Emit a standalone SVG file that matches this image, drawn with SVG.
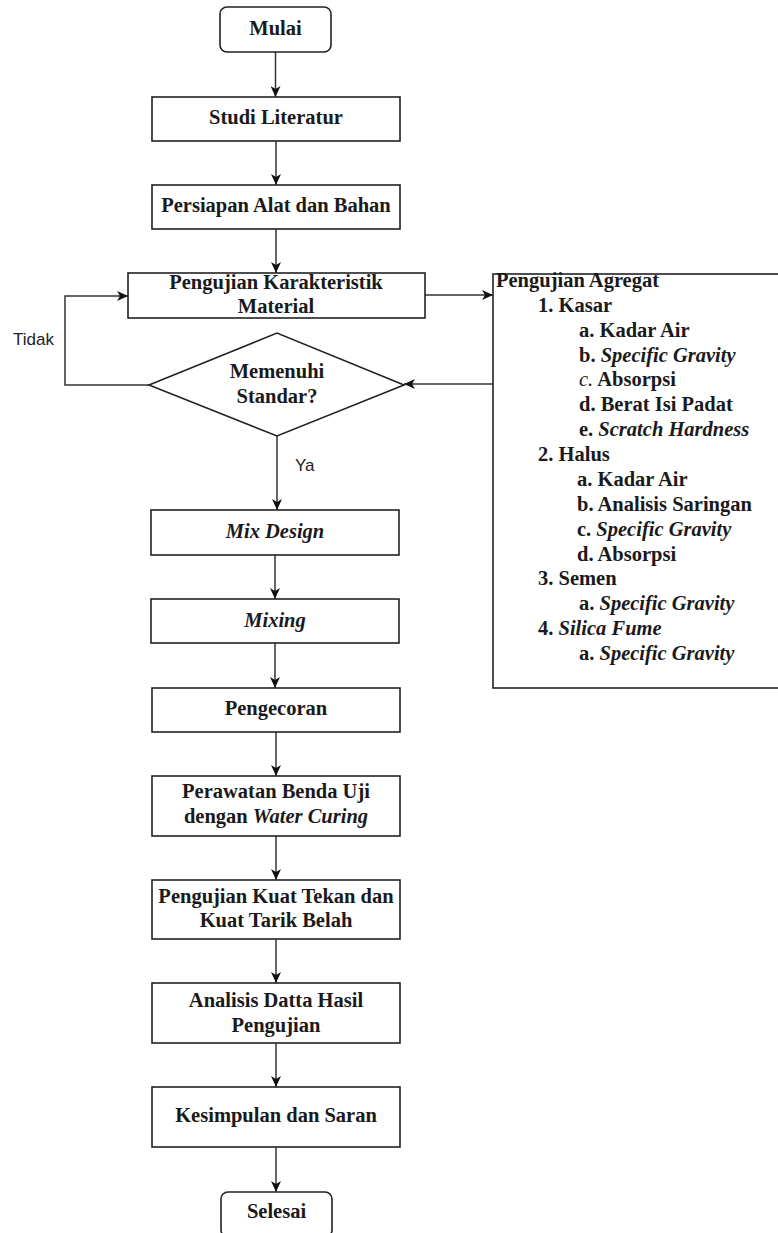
<svg xmlns="http://www.w3.org/2000/svg" width="778" height="1233" viewBox="0 0 778 1233">
<style>
.box{fill:#fff;stroke:#222;stroke-width:1.6}
.t{font-family:"Liberation Serif","Times New Roman",serif;font-weight:bold;font-size:20.5px;fill:#1a1a1a}
.c{text-anchor:middle}
.i{font-style:italic}
.s{font-family:"Liberation Sans",Arial,sans-serif;font-size:17px;fill:#222}
.ln{fill:none;stroke:#333;stroke-width:1.5}
</style>
<defs>
<marker id="ah" markerUnits="userSpaceOnUse" markerWidth="12" markerHeight="10" refX="11" refY="5" orient="auto">
<path d="M0,0 L11,5 L0,10 L3,5 z" fill="#111"/>
</marker>
</defs>
<rect width="778" height="1233" fill="#fff"/>
<g id="connectors">
<line class="ln" x1="275.5" y1="52" x2="275.5" y2="97" marker-end="url(#ah)"/>
<line class="ln" x1="276" y1="141" x2="276" y2="185" marker-end="url(#ah)"/>
<line class="ln" x1="276" y1="229" x2="276" y2="273" marker-end="url(#ah)"/>
<line class="ln" x1="425" y1="295" x2="493" y2="295" marker-end="url(#ah)"/>
<line class="ln" x1="494" y1="384" x2="404" y2="384" marker-end="url(#ah)"/>
<polyline class="ln" points="149,385 65,385 65,296 128,296" marker-end="url(#ah)"/>
<line class="ln" x1="277" y1="436" x2="277" y2="510" marker-end="url(#ah)"/>
<line class="ln" x1="275" y1="555" x2="275" y2="599" marker-end="url(#ah)"/>
<line class="ln" x1="275" y1="643" x2="275" y2="688" marker-end="url(#ah)"/>
<line class="ln" x1="276" y1="732" x2="276" y2="776" marker-end="url(#ah)"/>
<line class="ln" x1="276" y1="836" x2="276" y2="880" marker-end="url(#ah)"/>
<line class="ln" x1="276" y1="939" x2="276" y2="983" marker-end="url(#ah)"/>
<line class="ln" x1="276" y1="1043" x2="276" y2="1087" marker-end="url(#ah)"/>
<line class="ln" x1="276" y1="1147" x2="276" y2="1192" marker-end="url(#ah)"/>
<text class="s" x="13" y="345">Tidak</text>
<text class="s" x="295" y="471">Ya</text>
</g>
<g id="mulai"><rect class="box" x="220" y="7" width="111" height="45" rx="7"/><text class="t c" x="275.5" y="35">Mulai</text></g>
<g id="studi"><rect class="box" x="152" y="97" width="248" height="44"/><text class="t c" x="276" y="124">Studi Literatur</text></g>
<g id="persiapan"><rect class="box" x="152" y="185" width="248" height="44"/><text class="t c" x="276" y="212">Persiapan Alat dan Bahan</text></g>
<g id="karakteristik"><rect class="box" x="128" y="273" width="297" height="45"/><text class="t c" x="276" y="289">Pengujian Karakteristik</text><text class="t c" x="276" y="313">Material</text></g>
<g id="keputusan"><polygon class="box" points="149,385 277,333 404,385 277,436"/><text class="t c" x="277" y="378">Memenuhi</text><text class="t c" x="277" y="403">Standar?</text></g>
<g id="agregat"><rect class="box" x="493" y="274" width="300" height="414"/>
<text class="t" x="496" y="287">Pengujian Agregat</text>
<text class="t" x="538" y="312">1. Kasar</text>
<text class="t" x="579" y="337">a. Kadar Air</text>
<text class="t" x="579" y="362">b. <tspan class="i">Specific Gravity</tspan></text>
<text class="t" x="579" y="386"><tspan class="i" font-weight="normal">c.</tspan> Absorpsi</text>
<text class="t" x="579" y="411">d. Berat Isi Padat</text>
<text class="t" x="579" y="436">e. <tspan class="i">Scratch Hardness</tspan></text>
<text class="t" x="538" y="461">2. Halus</text>
<text class="t" x="577" y="486">a. Kadar Air</text>
<text class="t" x="577" y="511">b. Analisis Saringan</text>
<text class="t" x="577" y="536">c. <tspan class="i">Specific Gravity</tspan></text>
<text class="t" x="577" y="561">d. Absorpsi</text>
<text class="t" x="538" y="585">3. Semen</text>
<text class="t" x="579" y="610">a. <tspan class="i">Specific Gravity</tspan></text>
<text class="t" x="538" y="635">4. <tspan class="i">Silica Fume</tspan></text>
<text class="t" x="579" y="660">a. <tspan class="i">Specific Gravity</tspan></text>
</g>
<g id="mixdesign"><rect class="box" x="151" y="510" width="248" height="45"/><text class="t c i" x="275" y="538">Mix Design</text></g>
<g id="mixing"><rect class="box" x="151" y="599" width="248" height="44"/><text class="t c i" x="275" y="627">Mixing</text></g>
<g id="pengecoran"><rect class="box" x="152" y="688" width="248" height="44"/><text class="t c" x="276" y="715">Pengecoran</text></g>
<g id="perawatan"><rect class="box" x="152" y="776" width="248" height="60"/><text class="t c" x="276" y="798">Perawatan Benda Uji</text><text class="t c" x="276" y="823">dengan <tspan class="i">Water Curing</tspan></text></g>
<g id="pengujiankuat"><rect class="box" x="152" y="880" width="248" height="59"/><text class="t c" x="276" y="903">Pengujian Kuat Tekan dan</text><text class="t c" x="276" y="927">Kuat Tarik Belah</text></g>
<g id="analisis"><rect class="box" x="152" y="983" width="248" height="60"/><text class="t c" x="276" y="1007">Analisis Datta Hasil</text><text class="t c" x="276" y="1032">Pengujian</text></g>
<g id="kesimpulan"><rect class="box" x="152" y="1087" width="248" height="60"/><text class="t c" x="276" y="1122">Kesimpulan dan Saran</text></g>
<g id="selesai"><rect class="box" x="221" y="1192" width="111" height="45" rx="7"/><text class="t c" x="276.5" y="1218">Selesai</text></g>
</svg>
